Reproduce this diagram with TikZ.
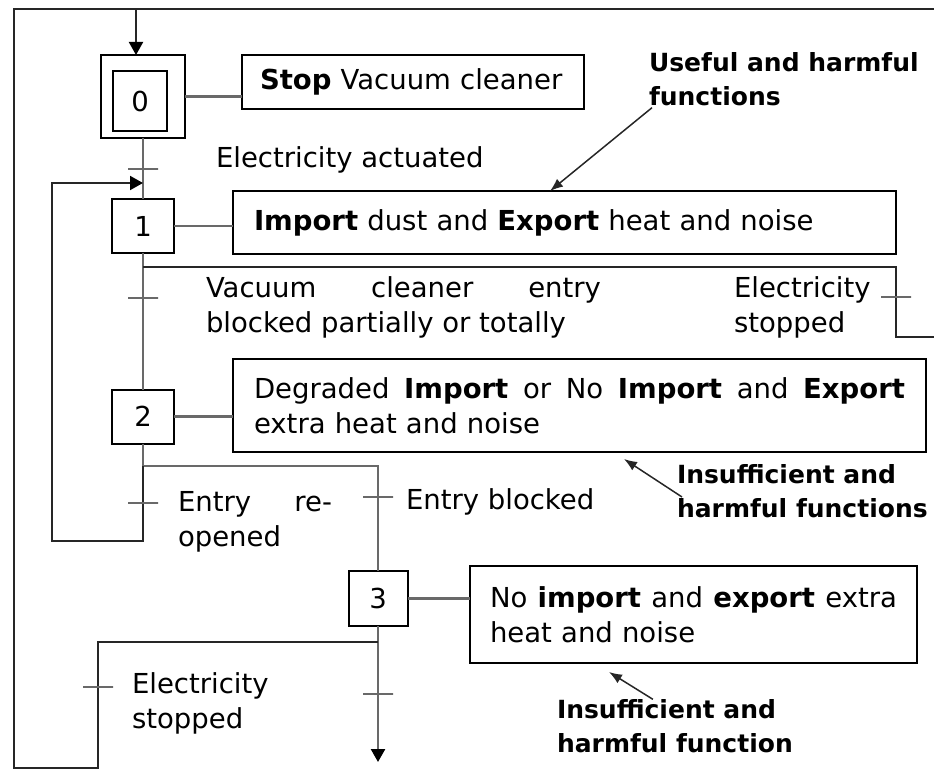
\documentclass[tikz,border=0pt]{standalone}
\usepackage{fontspec}
\setmainfont{DejaVu Sans}
\usepackage{tikz}
\usetikzlibrary{arrows.meta}
\definecolor{linkgray}{RGB}{105,105,105}

\begin{document}
\begin{tikzpicture}[x=1pt, y=-1pt,
  every node/.style={font=\fontsize{27.5}{35}\selectfont, inner sep=0pt, outer sep=0pt},
  stepbox/.style={draw, line width=2pt, minimum width=62pt, minimum height=54pt},
  actbox/.style={draw, line width=2pt, anchor=north west, align=left, inner xsep=21pt},
  link/.style={draw=linkgray, line width=2.5pt},
  loopline/.style={draw=black!85, line width=2pt},
  flow/.style={-{Triangle[length=13pt,width=14pt,black]}},
  tick/.style={draw=linkgray, line width=2.5pt, minimum width=30pt, minimum height=0pt},
  cond/.style={anchor=west, align=left},
  note/.style={font=\fontsize{25}{34}\selectfont\bfseries, anchor=west, align=left},
  notearrow/.style={-{Latex[length=13pt,width=10pt]}, line width=1.5pt, black!85}
]
\useasboundingbox (0,0) rectangle (934,770);

\node[stepbox, minimum width=84pt, minimum height=83pt] (s0) at (143,96.5) {};
\node[stepbox, minimum width=54pt, minimum height=60pt] (s0in) at (140,101) {0};
\node[stepbox] (s1) at (143,226) {1};
\node[stepbox] (s2) at (143,416.5) {2};
\node[stepbox, minimum width=59pt, minimum height=55pt] (s3) at (378,598.5) {3};

\node[actbox, minimum width=342pt, minimum height=54pt, text width=318pt, inner xsep=12pt] (a0) at (242,55)
  {\hspace*{6pt}\textbf{Stop} Vacuum cleaner};
\node[actbox, minimum width=663pt, minimum height=63pt, text width=621pt] (a1) at (233,191)
  {\textbf{Import} dust and \textbf{Export} heat and noise};
\node[actbox, minimum width=693pt, minimum height=93pt, text width=651pt] (a2) at (233,359)
  {\hbox to 651pt{Degraded\hfill\textbf{Import}\hfill or\hfill No\hfill\textbf{Import}\hfill and\hfill\textbf{Export}}\\extra heat and noise};
\node[actbox, minimum width=447pt, minimum height=97pt, text width=407pt, inner xsep=20pt] (a3) at (470,566)
  {\hbox to 407pt{No\hfill\textbf{import}\hfill and\hfill\textbf{export}\hfill extra}\\heat and noise};

\node[cond] (c01) at (216,160) {Electricity actuated};
\node[cond] (c12) at (206,307.5) {\hbox to 395pt{Vacuum\hfill cleaner\hfill entry}\\blocked partially or totally};
\node[cond] (c10) at (734,307.5) {Electricity\\stopped};
\node[cond] (c21) at (178,521.5) {\hbox to 154pt{Entry\hfill re-}\\opened};
\node[cond] (c23) at (406,502) {Entry blocked};
\node[cond] (c30) at (132,703) {Electricity\\stopped};

\node[note] (n1) at (649,79) {Useful and harmful\\functions};
\node[note] (n2) at (677,491) {Insufficient and\\harmful functions};
\node[note] (n3) at (557,726) {Insufficient and\\harmful function};

\coordinate (top) at (136,9);
\coordinate (tl) at (14,9);
\coordinate (tr) at (934,9);
\coordinate (bl) at (14,768);
\coordinate (br3) at (98,768);
\coordinate (j1) at (143,267);
\coordinate (bend1) at (896,337);
\coordinate (out1) at (934,337);
\coordinate (j2) at (143,466);
\coordinate (retlow) at (52,541);
\coordinate (ret) at (52,183);
\coordinate (j3) at (378,642);
\coordinate (down) at (378,762);
\coordinate (n1tip) at (550,191);
\coordinate (n2tip) at (624,459);
\coordinate (n3tip) at (609,672);

\draw[link] (s0.south) -- (s1.north);
\draw[link] (s1.south) -- (s2.north);
\draw[link] (s2.south) -- (j2);
\draw[link] (j2) -| (s3.north);
\draw[link, flow] (s3.south) -- (down);
\draw[link] (s0.east) -- (s0.east -| a0.west);
\draw[link] (s1.east) -- (s1.east -| a1.west);
\draw[link] (s2.east) -- (s2.east -| a2.west);
\draw[link] (s3.east) -- (s3.east -| a3.west);

\draw[loopline] (j1) -| (bend1) -- (out1);
\draw[loopline, flow] (j2) |- (retlow) -- (ret) -- (ret -| s1.north);
\draw[loopline] (j3) -| (br3) -- (bl) -- (tl) -- (tr);
\draw[loopline, flow] (top) -- (top |- s0.north);

\foreach \nm/\pos in {t01/{143,169}, t12/{143,298}, t10/{896,297}, t21/{143,503},
                      t23/{378,497}, t30/{98,687}, t3/{378,694}}
  \node[tick] (\nm) at (\pos) {};

\draw[notearrow] ([xshift=3pt, yshift=-2pt]n1.south west) -- (n1tip);
\draw[notearrow] ([xshift=5pt, yshift=-6pt]n2.west) -- (n2tip);
\draw[notearrow] ([xshift=-22pt]n3.north) -- (n3tip);
\end{tikzpicture}
\end{document}
